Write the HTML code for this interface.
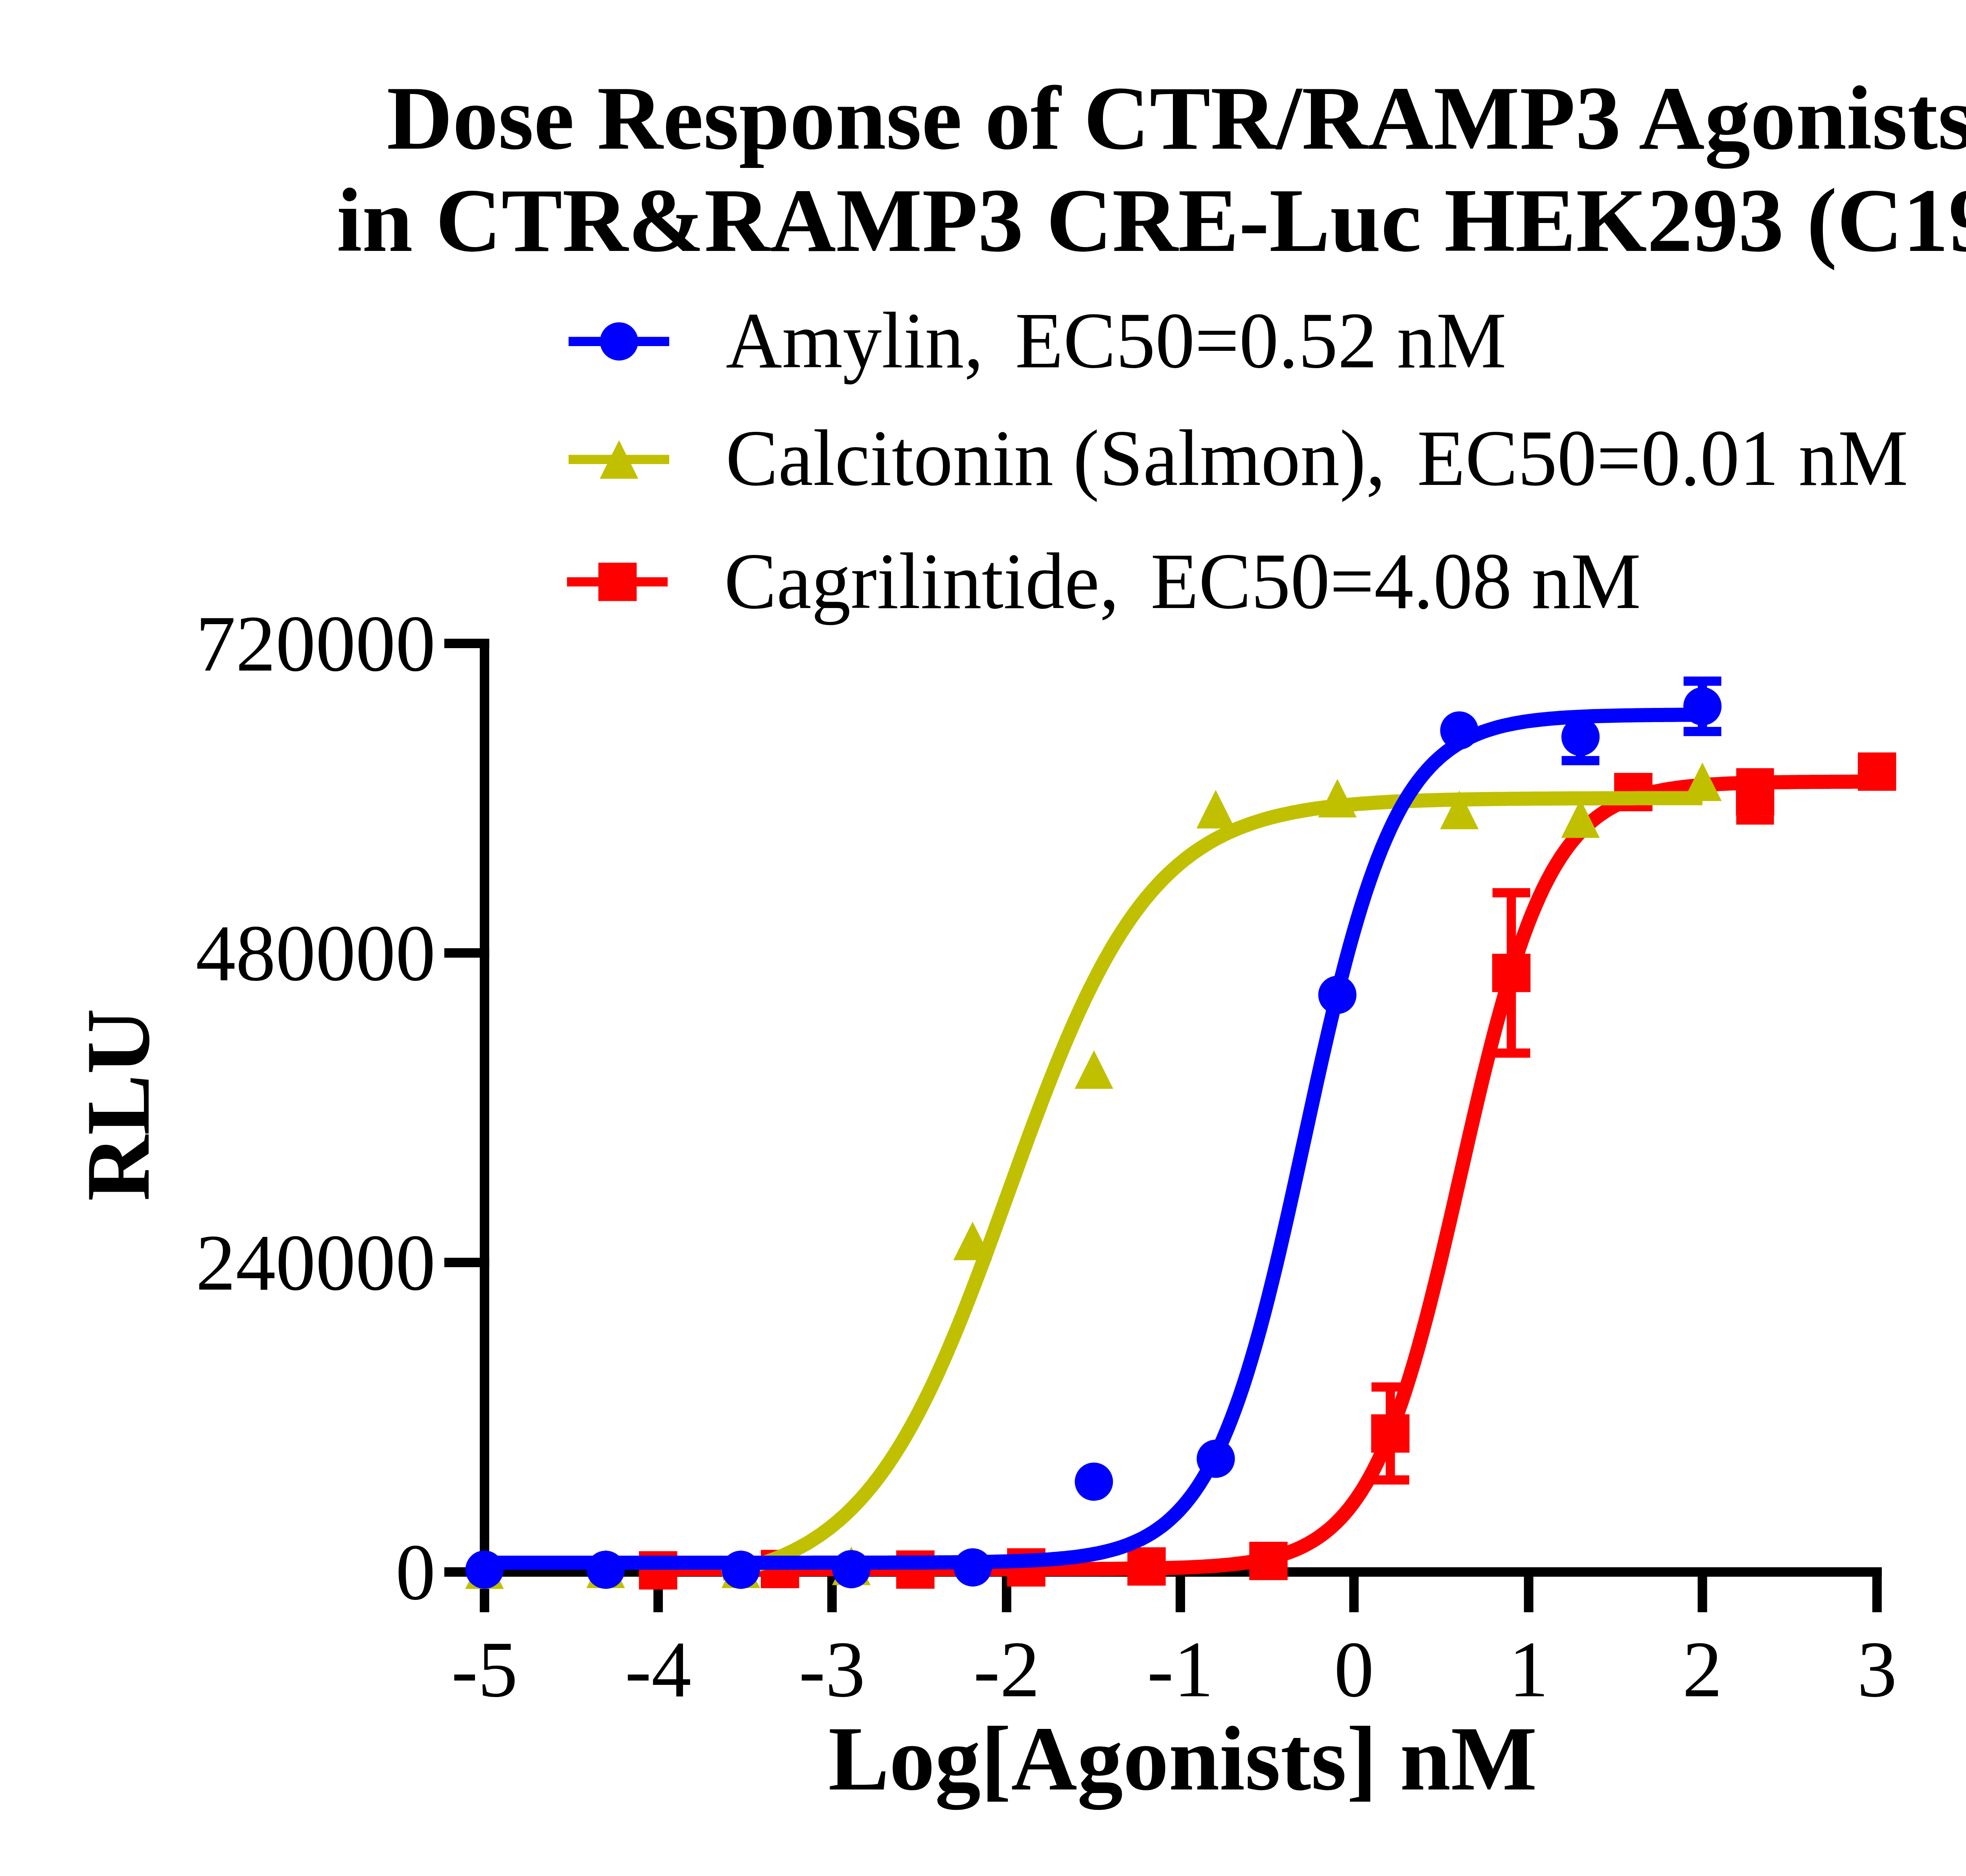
<!DOCTYPE html>
<html><head><meta charset="utf-8"><style>html,body{margin:0;padding:0;background:#fff;width:5344px;height:4770px;overflow:hidden;}svg{display:block}</style></head>
<body><svg width="5344" height="4770" viewBox="0 0 5344 4770"><rect x="1220.2" y="1624" width="24" height="2385" fill="#000"/><rect x="1220.2" y="3985" width="3565.5" height="24" fill="#000"/><rect x="1220.2" y="3985" width="24" height="114.3" fill="#000"/><rect x="1661.8" y="3985" width="24" height="114.3" fill="#000"/><rect x="2104.0" y="3985" width="24" height="114.3" fill="#000"/><rect x="2548.0" y="3985" width="24" height="114.3" fill="#000"/><rect x="2989.9" y="3985" width="24" height="114.3" fill="#000"/><rect x="3431.4" y="3985" width="24" height="114.3" fill="#000"/><rect x="3875.7" y="3985" width="24" height="114.3" fill="#000"/><rect x="4317.6" y="3985" width="24" height="114.3" fill="#000"/><rect x="4761.7" y="3985" width="24" height="114.3" fill="#000"/><rect x="1130" y="3985" width="114.2" height="24" fill="#000"/><rect x="1130" y="3198" width="114.2" height="24" fill="#000"/><rect x="1130" y="2411" width="114.2" height="24" fill="#000"/><rect x="1130" y="1624" width="114.2" height="24" fill="#000"/><g transform="translate(3001.10,378.00) scale(1.00030,1)"><text x="0" y="0" font-family="Liberation Serif" font-size="232" font-weight="bold" text-anchor="middle">Dose Response of CTR/RAMP3 Agonists</text></g><g transform="translate(3002.55,638.00) scale(1.00021,1)"><text x="0" y="0" font-family="Liberation Serif" font-size="232" font-weight="bold" text-anchor="middle">in CTR&amp;RAMP3 CRE-Luc HEK293 (C19)</text></g><g transform="translate(1845.74,934.00) scale(0.97939,1)"><text x="0" y="0" font-family="Liberation Serif" font-size="202.5" font-weight="normal" text-anchor="start">Amylin,</text></g><g transform="translate(2581.86,934.00) scale(0.99008,1)"><text x="0" y="0" font-family="Liberation Serif" font-size="202.5" font-weight="normal" text-anchor="start">EC50=0.52 nM</text></g><g transform="translate(1845.49,1233.00) scale(0.98814,1)"><text x="0" y="0" font-family="Liberation Serif" font-size="202.5" font-weight="normal" text-anchor="start">Calcitonin (Salmon),</text></g><g transform="translate(3604.06,1233.00) scale(0.98952,1)"><text x="0" y="0" font-family="Liberation Serif" font-size="202.5" font-weight="normal" text-anchor="start">EC50=0.01 nM</text></g><g transform="translate(1841.71,1546.00) scale(0.98676,1)"><text x="0" y="0" font-family="Liberation Serif" font-size="202.5" font-weight="normal" text-anchor="start">Cagrilintide,</text></g><g transform="translate(2926.17,1546.00) scale(0.98840,1)"><text x="0" y="0" font-family="Liberation Serif" font-size="202.5" font-weight="normal" text-anchor="start">EC50=4.08 nM</text></g><g transform="translate(1107.61,4066.00) scale(1.00136,1)"><text x="0" y="0" font-family="Liberation Serif" font-size="203" font-weight="normal" text-anchor="end">0</text></g><g transform="translate(1107.61,3279.00) scale(1.00136,1)"><text x="0" y="0" font-family="Liberation Serif" font-size="203" font-weight="normal" text-anchor="end">240000</text></g><g transform="translate(1107.61,2492.00) scale(1.00136,1)"><text x="0" y="0" font-family="Liberation Serif" font-size="203" font-weight="normal" text-anchor="end">480000</text></g><g transform="translate(1107.61,1705.00) scale(1.00136,1)"><text x="0" y="0" font-family="Liberation Serif" font-size="203" font-weight="normal" text-anchor="end">720000</text></g><g transform="translate(1232.20,4313.00) scale(1.00000,1)"><text x="0" y="0" font-family="Liberation Serif" font-size="203" font-weight="normal" text-anchor="middle">-5</text></g><g transform="translate(1673.80,4313.00) scale(1.00000,1)"><text x="0" y="0" font-family="Liberation Serif" font-size="203" font-weight="normal" text-anchor="middle">-4</text></g><g transform="translate(2116.00,4313.00) scale(1.00000,1)"><text x="0" y="0" font-family="Liberation Serif" font-size="203" font-weight="normal" text-anchor="middle">-3</text></g><g transform="translate(2560.00,4313.00) scale(1.00000,1)"><text x="0" y="0" font-family="Liberation Serif" font-size="203" font-weight="normal" text-anchor="middle">-2</text></g><g transform="translate(3001.90,4313.00) scale(1.00000,1)"><text x="0" y="0" font-family="Liberation Serif" font-size="203" font-weight="normal" text-anchor="middle">-1</text></g><g transform="translate(3443.40,4313.00) scale(1.00000,1)"><text x="0" y="0" font-family="Liberation Serif" font-size="203" font-weight="normal" text-anchor="middle">0</text></g><g transform="translate(3887.70,4313.00) scale(1.00000,1)"><text x="0" y="0" font-family="Liberation Serif" font-size="203" font-weight="normal" text-anchor="middle">1</text></g><g transform="translate(4329.60,4313.00) scale(1.00000,1)"><text x="0" y="0" font-family="Liberation Serif" font-size="203" font-weight="normal" text-anchor="middle">2</text></g><g transform="translate(4773.70,4313.00) scale(1.00000,1)"><text x="0" y="0" font-family="Liberation Serif" font-size="203" font-weight="normal" text-anchor="middle">3</text></g><g transform="translate(3007.80,4550.00) scale(1.00056,1)"><text x="0" y="0" font-family="Liberation Serif" font-size="232.5" font-weight="bold" text-anchor="middle">Log[Agonists] nM</text></g><g transform="translate(378.00,2809.00) rotate(-90) scale(1.00000,1)"><text x="0" y="0" font-family="Liberation Serif" font-size="232" font-weight="bold" text-anchor="middle">RLU</text></g><rect x="1446" y="856.5" width="256" height="23.5" fill="#0000ff"/><circle cx="1574.4" cy="868.2" r="48.6" fill="#0000ff"/><rect x="1446" y="1156.5" width="256" height="23.5" fill="#c0c000"/><path d="M1574.4,1119.2 L1623.4,1217.2 L1525.4,1217.2 Z" fill="#c0c000"/><rect x="1442" y="1467.7" width="256" height="23.5" fill="#ff0000"/><rect x="1521.7" y="1430.7" width="97.5" height="97.5" fill="#ff0000"/><rect x="1625.0" y="3944.1" width="97.5" height="97.5" fill="#ff0000"/><rect x="1935.0" y="3940.7" width="97.5" height="97.5" fill="#ff0000"/><rect x="2279.2" y="3942.1" width="97.5" height="97.5" fill="#ff0000"/><rect x="2561.2" y="3936.6" width="97.5" height="97.5" fill="#ff0000"/><rect x="2867.2" y="3934.2" width="97.5" height="97.5" fill="#ff0000"/><rect x="3177.2" y="3920.2" width="97.5" height="97.5" fill="#ff0000"/><rect x="3524.2" y="3526.6" width="23.5" height="118.2" fill="#ff0000"/><rect x="3488.0" y="3514.9" width="96" height="23.5" fill="#ff0000"/><rect x="3524.2" y="3644.8" width="23.5" height="118.2" fill="#ff0000"/><rect x="3488.0" y="3751.2" width="96" height="23.5" fill="#ff0000"/><rect x="3487.2" y="3596.1" width="97.5" height="97.5" fill="#ff0000"/><rect x="3831.9" y="2270.0" width="23.5" height="203.8" fill="#ff0000"/><rect x="3795.7" y="2258.2" width="96" height="23.5" fill="#ff0000"/><rect x="3831.9" y="2473.8" width="23.5" height="203.8" fill="#ff0000"/><rect x="3795.7" y="2665.9" width="96" height="23.5" fill="#ff0000"/><rect x="3794.9" y="2425.1" width="97.5" height="97.5" fill="#ff0000"/><rect x="4105.1" y="1965.2" width="97.5" height="97.5" fill="#ff0000"/><rect x="4451.9" y="1965.0" width="23.5" height="60.0" fill="#ff0000"/><rect x="4415.6" y="1953.2" width="96" height="23.5" fill="#ff0000"/><rect x="4451.9" y="2025.0" width="23.5" height="60.0" fill="#ff0000"/><rect x="4415.6" y="2073.2" width="96" height="23.5" fill="#ff0000"/><rect x="4414.9" y="1976.2" width="97.5" height="97.5" fill="#ff0000"/><rect x="4724.9" y="1913.2" width="97.5" height="97.5" fill="#ff0000"/><path d="M1673.8,3989.8 L1684.1,3989.8 L1694.5,3989.8 L1704.8,3989.8 L1715.1,3989.8 L1725.5,3989.8 L1735.8,3989.8 L1746.1,3989.8 L1756.5,3989.8 L1766.8,3989.8 L1777.1,3989.8 L1787.5,3989.8 L1797.8,3989.8 L1808.1,3989.8 L1818.5,3989.8 L1828.8,3989.8 L1839.1,3989.8 L1849.5,3989.8 L1859.8,3989.8 L1870.1,3989.8 L1880.5,3989.8 L1890.8,3989.8 L1901.1,3989.8 L1911.5,3989.8 L1921.8,3989.8 L1932.1,3989.8 L1942.4,3989.8 L1952.8,3989.8 L1963.1,3989.8 L1973.4,3989.8 L1983.8,3989.8 L1994.1,3989.8 L2004.4,3989.8 L2014.8,3989.8 L2025.1,3989.8 L2035.4,3989.8 L2045.8,3989.8 L2056.1,3989.8 L2066.4,3989.8 L2076.8,3989.8 L2087.1,3989.8 L2097.4,3989.8 L2107.8,3989.8 L2118.1,3989.8 L2128.4,3989.8 L2138.8,3989.8 L2149.1,3989.8 L2159.4,3989.8 L2169.8,3989.8 L2180.1,3989.8 L2190.4,3989.8 L2200.8,3989.8 L2211.1,3989.8 L2221.4,3989.8 L2231.8,3989.8 L2242.1,3989.8 L2252.4,3989.8 L2262.8,3989.8 L2273.1,3989.8 L2283.4,3989.8 L2293.8,3989.8 L2304.1,3989.8 L2314.4,3989.8 L2324.8,3989.7 L2335.1,3989.7 L2345.4,3989.7 L2355.8,3989.7 L2366.1,3989.7 L2376.4,3989.7 L2386.8,3989.7 L2397.1,3989.7 L2407.4,3989.7 L2417.8,3989.7 L2428.1,3989.7 L2438.4,3989.7 L2448.8,3989.7 L2459.1,3989.7 L2469.4,3989.7 L2479.7,3989.7 L2490.1,3989.7 L2500.4,3989.7 L2510.7,3989.7 L2521.1,3989.7 L2531.4,3989.7 L2541.7,3989.7 L2552.1,3989.7 L2562.4,3989.7 L2572.7,3989.7 L2583.1,3989.7 L2593.4,3989.7 L2603.7,3989.6 L2614.1,3989.6 L2624.4,3989.6 L2634.7,3989.6 L2645.1,3989.6 L2655.4,3989.6 L2665.7,3989.6 L2676.1,3989.5 L2686.4,3989.5 L2696.7,3989.5 L2707.1,3989.5 L2717.4,3989.4 L2727.7,3989.4 L2738.1,3989.4 L2748.4,3989.3 L2758.7,3989.3 L2769.1,3989.3 L2779.4,3989.2 L2789.7,3989.2 L2800.1,3989.1 L2810.4,3989.0 L2820.7,3989.0 L2831.1,3988.9 L2841.4,3988.8 L2851.7,3988.7 L2862.1,3988.6 L2872.4,3988.5 L2882.7,3988.4 L2893.1,3988.3 L2903.4,3988.1 L2913.7,3988.0 L2924.1,3987.8 L2934.4,3987.6 L2944.7,3987.4 L2955.1,3987.2 L2965.4,3987.0 L2975.7,3986.7 L2986.0,3986.4 L2996.4,3986.1 L3006.7,3985.7 L3017.0,3985.4 L3027.4,3984.9 L3037.7,3984.5 L3048.0,3984.0 L3058.4,3983.4 L3068.7,3982.8 L3079.0,3982.2 L3089.4,3981.5 L3099.7,3980.7 L3110.0,3979.8 L3120.4,3978.9 L3130.7,3977.9 L3141.0,3976.7 L3151.4,3975.5 L3161.7,3974.2 L3172.0,3972.7 L3182.4,3971.1 L3192.7,3969.4 L3203.0,3967.4 L3213.4,3965.3 L3223.7,3963.1 L3234.0,3960.6 L3244.4,3957.8 L3254.7,3954.8 L3265.0,3951.6 L3275.4,3948.0 L3285.7,3944.2 L3296.0,3940.0 L3306.4,3935.4 L3316.7,3930.3 L3327.0,3924.9 L3337.4,3918.9 L3347.7,3912.5 L3358.0,3905.4 L3368.4,3897.8 L3378.7,3889.5 L3389.0,3880.5 L3399.4,3870.7 L3409.7,3860.2 L3420.0,3848.7 L3430.4,3836.4 L3440.7,3823.0 L3451.0,3808.6 L3461.4,3793.1 L3471.7,3776.4 L3482.0,3758.5 L3492.3,3739.3 L3502.7,3718.7 L3513.0,3696.8 L3523.3,3673.3 L3533.7,3648.4 L3544.0,3621.9 L3554.3,3593.9 L3564.7,3564.3 L3575.0,3533.1 L3585.3,3500.4 L3595.7,3466.0 L3606.0,3430.2 L3616.3,3392.9 L3626.7,3354.2 L3637.0,3314.2 L3647.3,3273.0 L3657.7,3230.8 L3668.0,3187.6 L3678.3,3143.6 L3688.7,3099.0 L3699.0,3053.9 L3709.3,3008.6 L3719.7,2963.2 L3730.0,2917.9 L3740.3,2872.9 L3750.7,2828.3 L3761.0,2784.4 L3771.3,2741.3 L3781.7,2699.2 L3792.0,2658.1 L3802.3,2618.3 L3812.7,2579.8 L3823.0,2542.6 L3833.3,2507.0 L3843.7,2472.8 L3854.0,2440.2 L3864.3,2409.2 L3874.7,2379.8 L3885.0,2352.0 L3895.3,2325.7 L3905.7,2301.0 L3916.0,2277.7 L3926.3,2255.9 L3936.7,2235.5 L3947.0,2216.4 L3957.3,2198.7 L3967.7,2182.1 L3978.0,2166.7 L3988.3,2152.5 L3998.6,2139.2 L4009.0,2127.0 L4019.3,2115.6 L4029.6,2105.2 L4040.0,2095.5 L4050.3,2086.6 L4060.6,2078.4 L4071.0,2070.8 L4081.3,2063.8 L4091.6,2057.4 L4102.0,2051.5 L4112.3,2046.1 L4122.6,2041.2 L4133.0,2036.6 L4143.3,2032.4 L4153.6,2028.6 L4164.0,2025.1 L4174.3,2021.9 L4184.6,2018.9 L4195.0,2016.2 L4205.3,2013.7 L4215.6,2011.5 L4226.0,2009.4 L4236.3,2007.5 L4246.6,2005.8 L4257.0,2004.2 L4267.3,2002.7 L4277.6,2001.4 L4288.0,2000.2 L4298.3,1999.1 L4308.6,1998.1 L4319.0,1997.1 L4329.3,1996.3 L4339.6,1995.5 L4350.0,1994.8 L4360.3,1994.2 L4370.6,1993.6 L4381.0,1993.0 L4391.3,1992.5 L4401.6,1992.1 L4412.0,1991.7 L4422.3,1991.3 L4432.6,1991.0 L4443.0,1990.6 L4453.3,1990.4 L4463.6,1990.1 L4474.0,1989.8 L4484.3,1989.6 L4494.6,1989.4 L4505.0,1989.2 L4515.3,1989.1 L4525.6,1988.9 L4535.9,1988.8 L4546.3,1988.7 L4556.6,1988.5 L4566.9,1988.4 L4577.3,1988.3 L4587.6,1988.3 L4597.9,1988.2 L4608.3,1988.1 L4618.6,1988.0 L4628.9,1988.0 L4639.3,1987.9 L4649.6,1987.9 L4659.9,1987.8 L4670.3,1987.8 L4680.6,1987.7 L4690.9,1987.7 L4701.3,1987.7 L4711.6,1987.6 L4721.9,1987.6 L4732.3,1987.6 L4742.6,1987.6 L4752.9,1987.5 L4763.3,1987.5 L4773.6,1987.5" fill="none" stroke="#ff0000" stroke-width="36" stroke-linejoin="round"/><path d="M1232.2,3942.0 L1281.2,4040.0 L1183.2,4040.0 Z" fill="#c0c000"/><path d="M1540.4,3939.9 L1589.4,4037.9 L1491.4,4037.9 Z" fill="#c0c000"/><path d="M1884.0,3939.9 L1933.0,4037.9 L1835.0,4037.9 Z" fill="#c0c000"/><path d="M2165.1,3932.5 L2214.1,4030.5 L2116.1,4030.5 Z" fill="#c0c000"/><path d="M2473.6,3106.2 L2522.6,3204.2 L2424.6,3204.2 Z" fill="#c0c000"/><path d="M2782.2,2670.5 L2831.2,2768.5 L2733.2,2768.5 Z" fill="#c0c000"/><path d="M3091.9,2008.5 L3140.9,2106.5 L3042.9,2106.5 Z" fill="#c0c000"/><path d="M3401.3,1980.5 L3450.3,2078.5 L3352.3,2078.5 Z" fill="#c0c000"/><path d="M3711.5,2010.4 L3760.5,2108.4 L3662.5,2108.4 Z" fill="#c0c000"/><path d="M4019.5,2032.4 L4068.5,2130.4 L3970.5,2130.4 Z" fill="#c0c000"/><path d="M4329.6,1938.8 L4378.6,2036.8 L4280.6,2036.8 Z" fill="#c0c000"/><path d="M1836.0,4001.5 L1844.3,3999.9 L1852.6,3998.1 L1860.9,3996.3 L1869.2,3994.5 L1877.6,3992.5 L1885.9,3990.5 L1894.2,3988.3 L1902.5,3986.1 L1910.8,3983.7 L1919.1,3981.3 L1927.4,3978.8 L1935.7,3976.1 L1944.1,3973.3 L1952.4,3970.4 L1960.7,3967.4 L1969.0,3964.3 L1977.3,3961.0 L1985.6,3957.5 L1993.9,3954.0 L2002.2,3950.2 L2010.6,3946.3 L2018.9,3942.3 L2027.2,3938.0 L2035.5,3933.6 L2043.8,3929.0 L2052.1,3924.3 L2060.4,3919.3 L2068.7,3914.1 L2077.0,3908.7 L2085.4,3903.1 L2093.7,3897.2 L2102.0,3891.1 L2110.3,3884.8 L2118.6,3878.2 L2126.9,3871.4 L2135.2,3864.3 L2143.5,3856.9 L2151.9,3849.3 L2160.2,3841.3 L2168.5,3833.1 L2176.8,3824.5 L2185.1,3815.7 L2193.4,3806.5 L2201.7,3796.9 L2210.0,3787.1 L2218.4,3776.9 L2226.7,3766.3 L2235.0,3755.4 L2243.3,3744.2 L2251.6,3732.5 L2259.9,3720.5 L2268.2,3708.1 L2276.5,3695.3 L2284.8,3682.1 L2293.2,3668.5 L2301.5,3654.5 L2309.8,3640.1 L2318.1,3625.4 L2326.4,3610.2 L2334.7,3594.6 L2343.0,3578.6 L2351.3,3562.2 L2359.7,3545.4 L2368.0,3528.2 L2376.3,3510.6 L2384.6,3492.6 L2392.9,3474.2 L2401.2,3455.5 L2409.5,3436.4 L2417.8,3416.9 L2426.2,3397.1 L2434.5,3377.0 L2442.8,3356.6 L2451.1,3335.8 L2459.4,3314.8 L2467.7,3293.5 L2476.0,3271.9 L2484.3,3250.1 L2492.6,3228.1 L2501.0,3205.9 L2509.3,3183.5 L2517.6,3160.9 L2525.9,3138.3 L2534.2,3115.5 L2542.5,3092.6 L2550.8,3069.7 L2559.1,3046.7 L2567.5,3023.7 L2575.8,3000.8 L2584.1,2977.8 L2592.4,2955.0 L2600.7,2932.2 L2609.0,2909.5 L2617.3,2886.9 L2625.6,2864.5 L2634.0,2842.2 L2642.3,2820.2 L2650.6,2798.4 L2658.9,2776.8 L2667.2,2755.4 L2675.5,2734.3 L2683.8,2713.5 L2692.1,2693.0 L2700.4,2672.8 L2708.8,2653.0 L2717.1,2633.5 L2725.4,2614.3 L2733.7,2595.5 L2742.0,2577.1 L2750.3,2559.1 L2758.6,2541.4 L2766.9,2524.1 L2775.3,2507.3 L2783.6,2490.8 L2791.9,2474.7 L2800.2,2459.0 L2808.5,2443.8 L2816.8,2428.9 L2825.1,2414.5 L2833.4,2400.4 L2841.8,2386.8 L2850.1,2373.5 L2858.4,2360.7 L2866.7,2348.2 L2875.0,2336.1 L2883.3,2324.4 L2891.6,2313.1 L2899.9,2302.1 L2908.2,2291.5 L2916.6,2281.2 L2924.9,2271.3 L2933.2,2261.7 L2941.5,2252.5 L2949.8,2243.6 L2958.1,2235.0 L2966.4,2226.7 L2974.7,2218.7 L2983.1,2211.0 L2991.4,2203.5 L2999.7,2196.4 L3008.0,2189.5 L3016.3,2182.9 L3024.6,2176.5 L3032.9,2170.4 L3041.2,2164.5 L3049.6,2158.9 L3057.9,2153.4 L3066.2,2148.2 L3074.5,2143.2 L3082.8,2138.4 L3091.1,2133.7 L3099.4,2129.3 L3107.7,2125.0 L3116.0,2120.9 L3124.4,2117.0 L3132.7,2113.3 L3141.0,2109.7 L3149.3,2106.2 L3157.6,2102.9 L3165.9,2099.7 L3174.2,2096.7 L3182.5,2093.8 L3190.9,2091.0 L3199.2,2088.3 L3207.5,2085.7 L3215.8,2083.3 L3224.1,2080.9 L3232.4,2078.7 L3240.7,2076.5 L3249.0,2074.4 L3257.4,2072.5 L3265.7,2070.6 L3274.0,2068.8 L3282.3,2067.0 L3290.6,2065.4 L3298.9,2063.8 L3307.2,2062.3 L3315.5,2060.8 L3323.8,2059.4 L3332.2,2058.1 L3340.5,2056.8 L3348.8,2055.6 L3357.1,2054.5 L3365.4,2053.4 L3373.7,2052.3 L3382.0,2051.3 L3390.3,2050.3 L3398.7,2049.4 L3407.0,2048.5 L3415.3,2047.6 L3423.6,2046.8 L3431.9,2046.1 L3440.2,2045.3 L3448.5,2044.6 L3456.8,2043.9 L3465.2,2043.3 L3473.5,2042.7 L3481.8,2042.1 L3490.1,2041.5 L3498.4,2041.0 L3506.7,2040.4 L3515.0,2040.0 L3523.3,2039.5 L3531.6,2039.0 L3540.0,2038.6 L3548.3,2038.2 L3556.6,2037.8 L3564.9,2037.4 L3573.2,2037.1 L3581.5,2036.7 L3589.8,2036.4 L3598.1,2036.1 L3606.5,2035.8 L3614.8,2035.5 L3623.1,2035.2 L3631.4,2034.9 L3639.7,2034.7 L3648.0,2034.5 L3656.3,2034.2 L3664.6,2034.0 L3673.0,2033.8 L3681.3,2033.6 L3689.6,2033.4 L3697.9,2033.2 L3706.2,2033.1 L3714.5,2032.9 L3722.8,2032.7 L3731.1,2032.6 L3739.4,2032.4 L3747.8,2032.3 L3756.1,2032.2 L3764.4,2032.0 L3772.7,2031.9 L3781.0,2031.8 L3789.3,2031.7 L3797.6,2031.6 L3805.9,2031.5 L3814.3,2031.4 L3822.6,2031.3 L3830.9,2031.2 L3839.2,2031.1 L3847.5,2031.1 L3855.8,2031.0 L3864.1,2030.9 L3872.4,2030.8 L3880.8,2030.8 L3889.1,2030.7 L3897.4,2030.6 L3905.7,2030.6 L3914.0,2030.5 L3922.3,2030.5 L3930.6,2030.4 L3938.9,2030.4 L3947.2,2030.3 L3955.6,2030.3 L3963.9,2030.2 L3972.2,2030.2 L3980.5,2030.2 L3988.8,2030.1 L3997.1,2030.1 L4005.4,2030.1 L4013.7,2030.0 L4022.1,2030.0 L4030.4,2030.0 L4038.7,2029.9 L4047.0,2029.9 L4055.3,2029.9 L4063.6,2029.9 L4071.9,2029.8 L4080.2,2029.8 L4088.6,2029.8 L4096.9,2029.8 L4105.2,2029.8 L4113.5,2029.7 L4121.8,2029.7 L4130.1,2029.7 L4138.4,2029.7 L4146.7,2029.7 L4155.0,2029.7 L4163.4,2029.6 L4171.7,2029.6 L4180.0,2029.6 L4188.3,2029.6 L4196.6,2029.6 L4204.9,2029.6 L4213.2,2029.6 L4221.5,2029.6 L4229.9,2029.6 L4238.2,2029.5 L4246.5,2029.5 L4254.8,2029.5 L4263.1,2029.5 L4271.4,2029.5 L4279.7,2029.5 L4288.0,2029.5 L4296.4,2029.5 L4304.7,2029.5 L4313.0,2029.5 L4321.3,2029.5 L4329.6,2029.5" fill="none" stroke="#c0c000" stroke-width="36" stroke-linejoin="round"/><circle cx="1232.2" cy="3991.0" r="48.6" fill="#0000ff"/><circle cx="1540.4" cy="3991.3" r="48.6" fill="#0000ff"/><circle cx="1884.0" cy="3991.3" r="48.6" fill="#0000ff"/><circle cx="2165.1" cy="3989.8" r="48.6" fill="#0000ff"/><circle cx="2474.0" cy="3985.3" r="48.6" fill="#0000ff"/><circle cx="2782.0" cy="3767.3" r="48.6" fill="#0000ff"/><circle cx="3092.0" cy="3709.1" r="48.6" fill="#0000ff"/><circle cx="3401.2" cy="2529.7" r="48.6" fill="#0000ff"/><circle cx="3711.3" cy="1857.3" r="48.6" fill="#0000ff"/><rect x="4007.8" y="1823.5" width="23.5" height="50.0" fill="#0000ff"/><rect x="3971.6" y="1811.8" width="96" height="23.5" fill="#0000ff"/><rect x="4007.8" y="1873.5" width="23.5" height="60.5" fill="#0000ff"/><rect x="3971.6" y="1922.2" width="96" height="23.5" fill="#0000ff"/><circle cx="4019.6" cy="1873.5" r="48.6" fill="#0000ff"/><rect x="4317.9" y="1731.9" width="23.5" height="64.0" fill="#0000ff"/><rect x="4281.7" y="1720.2" width="96" height="23.5" fill="#0000ff"/><rect x="4317.9" y="1795.9" width="23.5" height="64.0" fill="#0000ff"/><rect x="4281.7" y="1848.2" width="96" height="23.5" fill="#0000ff"/><circle cx="4329.7" cy="1795.9" r="48.6" fill="#0000ff"/><path d="M1232.2,3973.4 L1242.5,3973.4 L1252.9,3973.4 L1263.2,3973.4 L1273.5,3973.4 L1283.8,3973.4 L1294.2,3973.4 L1304.5,3973.4 L1314.8,3973.4 L1325.1,3973.4 L1335.5,3973.4 L1345.8,3973.4 L1356.1,3973.4 L1366.4,3973.4 L1376.8,3973.4 L1387.1,3973.4 L1397.4,3973.4 L1407.7,3973.4 L1418.0,3973.4 L1428.4,3973.4 L1438.7,3973.4 L1449.0,3973.4 L1459.4,3973.4 L1469.7,3973.4 L1480.0,3973.4 L1490.3,3973.4 L1500.7,3973.4 L1511.0,3973.4 L1521.3,3973.4 L1531.6,3973.4 L1542.0,3973.4 L1552.3,3973.4 L1562.6,3973.4 L1572.9,3973.4 L1583.2,3973.4 L1593.6,3973.4 L1603.9,3973.4 L1614.2,3973.4 L1624.6,3973.4 L1634.9,3973.4 L1645.2,3973.4 L1655.5,3973.4 L1665.8,3973.4 L1676.2,3973.4 L1686.5,3973.4 L1696.8,3973.4 L1707.2,3973.4 L1717.5,3973.4 L1727.8,3973.4 L1738.1,3973.4 L1748.5,3973.4 L1758.8,3973.4 L1769.1,3973.4 L1779.4,3973.4 L1789.8,3973.4 L1800.1,3973.4 L1810.4,3973.4 L1820.7,3973.4 L1831.1,3973.4 L1841.4,3973.4 L1851.7,3973.4 L1862.0,3973.4 L1872.3,3973.4 L1882.7,3973.4 L1893.0,3973.4 L1903.3,3973.4 L1913.7,3973.4 L1924.0,3973.4 L1934.3,3973.4 L1944.6,3973.4 L1955.0,3973.4 L1965.3,3973.4 L1975.6,3973.4 L1985.9,3973.4 L1996.2,3973.4 L2006.6,3973.4 L2016.9,3973.4 L2027.2,3973.4 L2037.6,3973.4 L2047.9,3973.4 L2058.2,3973.4 L2068.5,3973.3 L2078.8,3973.3 L2089.2,3973.3 L2099.5,3973.3 L2109.8,3973.3 L2120.2,3973.3 L2130.5,3973.3 L2140.8,3973.3 L2151.1,3973.3 L2161.4,3973.3 L2171.8,3973.3 L2182.1,3973.3 L2192.4,3973.3 L2202.8,3973.2 L2213.1,3973.2 L2223.4,3973.2 L2233.7,3973.2 L2244.1,3973.2 L2254.4,3973.2 L2264.7,3973.1 L2275.0,3973.1 L2285.4,3973.1 L2295.7,3973.0 L2306.0,3973.0 L2316.3,3973.0 L2326.7,3972.9 L2337.0,3972.9 L2347.3,3972.9 L2357.6,3972.8 L2367.9,3972.8 L2378.3,3972.7 L2388.6,3972.6 L2398.9,3972.6 L2409.2,3972.5 L2419.6,3972.4 L2429.9,3972.3 L2440.2,3972.2 L2450.6,3972.1 L2460.9,3972.0 L2471.2,3971.8 L2481.5,3971.7 L2491.9,3971.5 L2502.2,3971.4 L2512.5,3971.2 L2522.8,3971.0 L2533.2,3970.7 L2543.5,3970.5 L2553.8,3970.2 L2564.1,3969.9 L2574.4,3969.6 L2584.8,3969.3 L2595.1,3968.9 L2605.4,3968.5 L2615.8,3968.0 L2626.1,3967.5 L2636.4,3967.0 L2646.7,3966.4 L2657.1,3965.8 L2667.4,3965.1 L2677.7,3964.3 L2688.0,3963.5 L2698.4,3962.5 L2708.7,3961.6 L2719.0,3960.5 L2729.3,3959.3 L2739.7,3958.0 L2750.0,3956.6 L2760.3,3955.0 L2770.6,3953.4 L2780.9,3951.5 L2791.3,3949.6 L2801.6,3947.4 L2811.9,3945.0 L2822.2,3942.4 L2832.6,3939.6 L2842.9,3936.6 L2853.2,3933.3 L2863.6,3929.6 L2873.9,3925.7 L2884.2,3921.4 L2894.5,3916.7 L2904.9,3911.7 L2915.2,3906.1 L2925.5,3900.2 L2935.8,3893.7 L2946.2,3886.6 L2956.5,3879.0 L2966.8,3870.7 L2977.1,3861.7 L2987.4,3852.0 L2997.8,3841.5 L3008.1,3830.2 L3018.4,3817.9 L3028.8,3804.7 L3039.1,3790.5 L3049.4,3775.2 L3059.7,3758.7 L3070.1,3741.1 L3080.4,3722.2 L3090.7,3702.0 L3101.0,3680.4 L3111.4,3657.3 L3121.7,3632.8 L3132.0,3606.7 L3142.3,3579.1 L3152.7,3550.0 L3163.0,3519.2 L3173.3,3486.8 L3183.6,3452.8 L3193.9,3417.2 L3204.3,3380.0 L3214.6,3341.4 L3224.9,3301.3 L3235.2,3259.9 L3245.6,3217.2 L3255.9,3173.4 L3266.2,3128.5 L3276.6,3082.8 L3286.9,3036.4 L3297.2,2989.5 L3307.5,2942.2 L3317.9,2894.7 L3328.2,2847.3 L3338.5,2800.0 L3348.8,2753.0 L3359.1,2706.7 L3369.5,2661.0 L3379.8,2616.2 L3390.1,2572.4 L3400.4,2529.7 L3410.8,2488.3 L3421.1,2448.3 L3431.4,2409.6 L3441.8,2372.5 L3452.1,2337.0 L3462.4,2303.0 L3472.7,2270.6 L3483.1,2239.9 L3493.4,2210.7 L3503.7,2183.1 L3514.0,2157.1 L3524.4,2132.6 L3534.7,2109.6 L3545.0,2088.0 L3555.3,2067.8 L3565.6,2048.9 L3576.0,2031.3 L3586.3,2014.9 L3596.6,1999.6 L3606.9,1985.4 L3617.3,1972.2 L3627.6,1960.0 L3637.9,1948.7 L3648.2,1938.2 L3658.6,1928.5 L3668.9,1919.5 L3679.2,1911.3 L3689.6,1903.6 L3699.9,1896.6 L3710.2,1890.1 L3720.5,1884.1 L3730.9,1878.6 L3741.2,1873.6 L3751.5,1868.9 L3761.8,1864.6 L3772.1,1860.7 L3782.5,1857.1 L3792.8,1853.8 L3803.1,1850.7 L3813.4,1847.9 L3823.8,1845.3 L3834.1,1843.0 L3844.4,1840.8 L3854.8,1838.8 L3865.1,1837.0 L3875.4,1835.3 L3885.7,1833.8 L3896.1,1832.4 L3906.4,1831.1 L3916.7,1829.9 L3927.0,1828.8 L3937.4,1827.8 L3947.7,1826.9 L3958.0,1826.1 L3968.3,1825.3 L3978.6,1824.6 L3989.0,1824.0 L3999.3,1823.4 L4009.6,1822.9 L4019.9,1822.4 L4030.3,1821.9 L4040.6,1821.5 L4050.9,1821.1 L4061.2,1820.8 L4071.6,1820.5 L4081.9,1820.2 L4092.2,1819.9 L4102.6,1819.7 L4112.9,1819.4 L4123.2,1819.2 L4133.5,1819.0 L4143.9,1818.9 L4154.2,1818.7 L4164.5,1818.6 L4174.8,1818.4 L4185.1,1818.3 L4195.5,1818.2 L4205.8,1818.1 L4216.1,1818.0 L4226.4,1817.9 L4236.8,1817.8 L4247.1,1817.8 L4257.4,1817.7 L4267.8,1817.6 L4278.1,1817.6 L4288.4,1817.5 L4298.7,1817.5 L4309.1,1817.5 L4319.4,1817.4 L4329.7,1817.4" fill="none" stroke="#0000ff" stroke-width="36" stroke-linejoin="round"/></svg></body></html>
